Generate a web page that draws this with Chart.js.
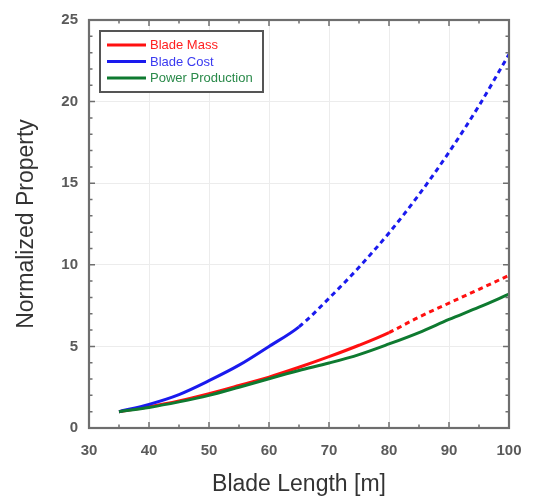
<!DOCTYPE html>
<html>
<head>
<meta charset="utf-8">
<script src="https://cdn.jsdelivr.net/npm/chart.js@4.4.1/dist/chart.umd.min.js"></script>
<style>
  html, body { margin: 0; padding: 0; background: #ffffff; }
  #wrap { width: 549px; height: 500px; }
</style>
</head>
<body>
<div id="wrap"><canvas id="c" width="549" height="500"></canvas></div>
<script>
// ---- data ----
const bladeLength = [35, 40, 45, 50, 55, 60, 65, 70, 75, 80, 85, 90, 95, 100];
const bladeMass = [1.0, 1.3, 1.66, 2.1, 2.6, 3.12, 3.72, 4.37, 5.07, 5.85, 6.8, 7.65, 8.5, 9.35];
const bladeCost = [1.0, 1.45, 2.05, 2.9, 3.85, 5.0, 6.2, 7.95, 9.85, 11.95, 14.3, 16.9, 19.75, 22.9];
const powerProduction = [1.0, 1.26, 1.6, 2.0, 2.5, 3.02, 3.52, 3.98, 4.5, 5.15, 5.85, 6.65, 7.4, 8.2];
const seriesNames = ['Blade Mass', 'Blade Cost', 'Power Production'];
const solidUntil = [80, 65, 100];   // beyond these lengths the line is dashed (extrapolation)
const xTickLabels = [30, 40, 50, 60, 70, 80, 90, 100];
const yTickLabels = [0, 5, 10, 15, 20, 25];

const colors = ['#ff1010', '#1a1aee', '#0e7a30'];
const textColors = ['#ff2020', '#3a3af0', '#2a8a4a'];

function pts(ys) { return bladeLength.map((x, i) => ({ x: x, y: ys[i] })); }

const allSeries = [bladeMass, bladeCost, powerProduction];
const datasets = allSeries.map((ys, k) => ({
  label: seriesNames[k],
  data: pts(ys),
  borderColor: colors[k],
  backgroundColor: colors[k],
  borderWidth: 3,
  pointRadius: 0,
  cubicInterpolationMode: 'monotone',
  fill: false,
  segment: {
    borderDash: ctx => ctx.p0.parsed.x >= solidUntil[k] ? [5, 4] : undefined
  }
})).reverse();

// frame, inward ticks and in-plot legend
const framePlugin = {
  id: 'frame',
  afterDraw(chart) {
    const { ctx, chartArea: a, scales } = chart;
    const xs = scales.x, ys = scales.y;
    ctx.save();
    ctx.strokeStyle = '#6e6e6e';
    ctx.lineWidth = 1.5;
    for (let v = 30; v <= 100; v += 5) {
      const px = xs.getPixelForValue(v);
      const len = (v % 10 === 0) ? 6 : 3.5;
      ctx.beginPath();
      ctx.moveTo(px, a.bottom); ctx.lineTo(px, a.bottom - len);
      ctx.moveTo(px, a.top); ctx.lineTo(px, a.top + len);
      ctx.stroke();
    }
    for (let v = 0; v <= 25; v += 1) {
      const py = ys.getPixelForValue(v);
      const len = (v % 5 === 0) ? 6 : 3.5;
      ctx.beginPath();
      ctx.moveTo(a.left, py); ctx.lineTo(a.left + len, py);
      ctx.moveTo(a.right, py); ctx.lineTo(a.right - len, py);
      ctx.stroke();
    }
    ctx.lineWidth = 2.2;
    ctx.strokeStyle = '#6e6e6e';
    ctx.strokeRect(a.left, a.top, a.right - a.left, a.bottom - a.top);

    // legend
    const lx = a.left + 11, ly = a.top + 11, lw = 163, lh = 61;
    ctx.fillStyle = '#ffffff';
    ctx.fillRect(lx, ly, lw, lh);
    ctx.lineWidth = 2;
    ctx.strokeStyle = '#555555';
    ctx.strokeRect(lx, ly, lw, lh);
    ctx.font = '13px Arial, "Liberation Sans", sans-serif';
    ctx.textBaseline = 'middle';
    ctx.textAlign = 'left';
    seriesNames.forEach((name, k) => {
      const ry = ly + 14 + k * 16.5;
      ctx.strokeStyle = colors[k];
      ctx.lineWidth = 3;
      ctx.beginPath();
      ctx.moveTo(lx + 7, ry); ctx.lineTo(lx + 46, ry);
      ctx.stroke();
      ctx.fillStyle = textColors[k];
      ctx.fillText(name, lx + 50, ry + 0.5);
    });
    ctx.restore();
  }
};

const tickFont = { family: 'Arial, "Liberation Sans", sans-serif', size: 15, weight: 'bold' };
const titleFont = { family: 'Arial, "Liberation Sans", sans-serif', size: 23 };

new Chart(document.getElementById('c'), {
  type: 'line',
  data: { datasets: datasets },
  options: {
    responsive: false,
    animation: false,
    layout: { padding: { left: 0, right: 40, top: 17, bottom: 0 } },
    plugins: { legend: { display: false }, tooltip: { enabled: false } },
    scales: {
      x: {
        type: 'linear', min: 30, max: 100,
        afterFit: s => { s.height = 72; },
        afterBuildTicks: s => { s.ticks = xTickLabels.map(v => ({ value: v })); },
        grid: { color: '#ececec', lineWidth: 1, drawTicks: false },
        border: { display: false },
        ticks: { color: '#5a5a5a', font: tickFont, padding: 14, maxRotation: 0 },
        title: { display: true, text: 'Blade Length [m]', color: '#333333', font: titleFont, padding: { top: 2, bottom: 2 } }
      },
      y: {
        type: 'linear', min: 0, max: 25,
        afterFit: s => { s.width = 89; },
        afterBuildTicks: s => { s.ticks = yTickLabels.map(v => ({ value: v })); },
        grid: { color: '#ececec', lineWidth: 1, drawTicks: false },
        border: { display: false },
        ticks: { color: '#5a5a5a', font: tickFont, padding: 11 },
        title: { display: true, text: 'Normalized Property', color: '#333333', font: titleFont, padding: { top: 13, bottom: 13 } }
      }
    }
  },
  plugins: [framePlugin]
});
</script>
</body>
</html>
